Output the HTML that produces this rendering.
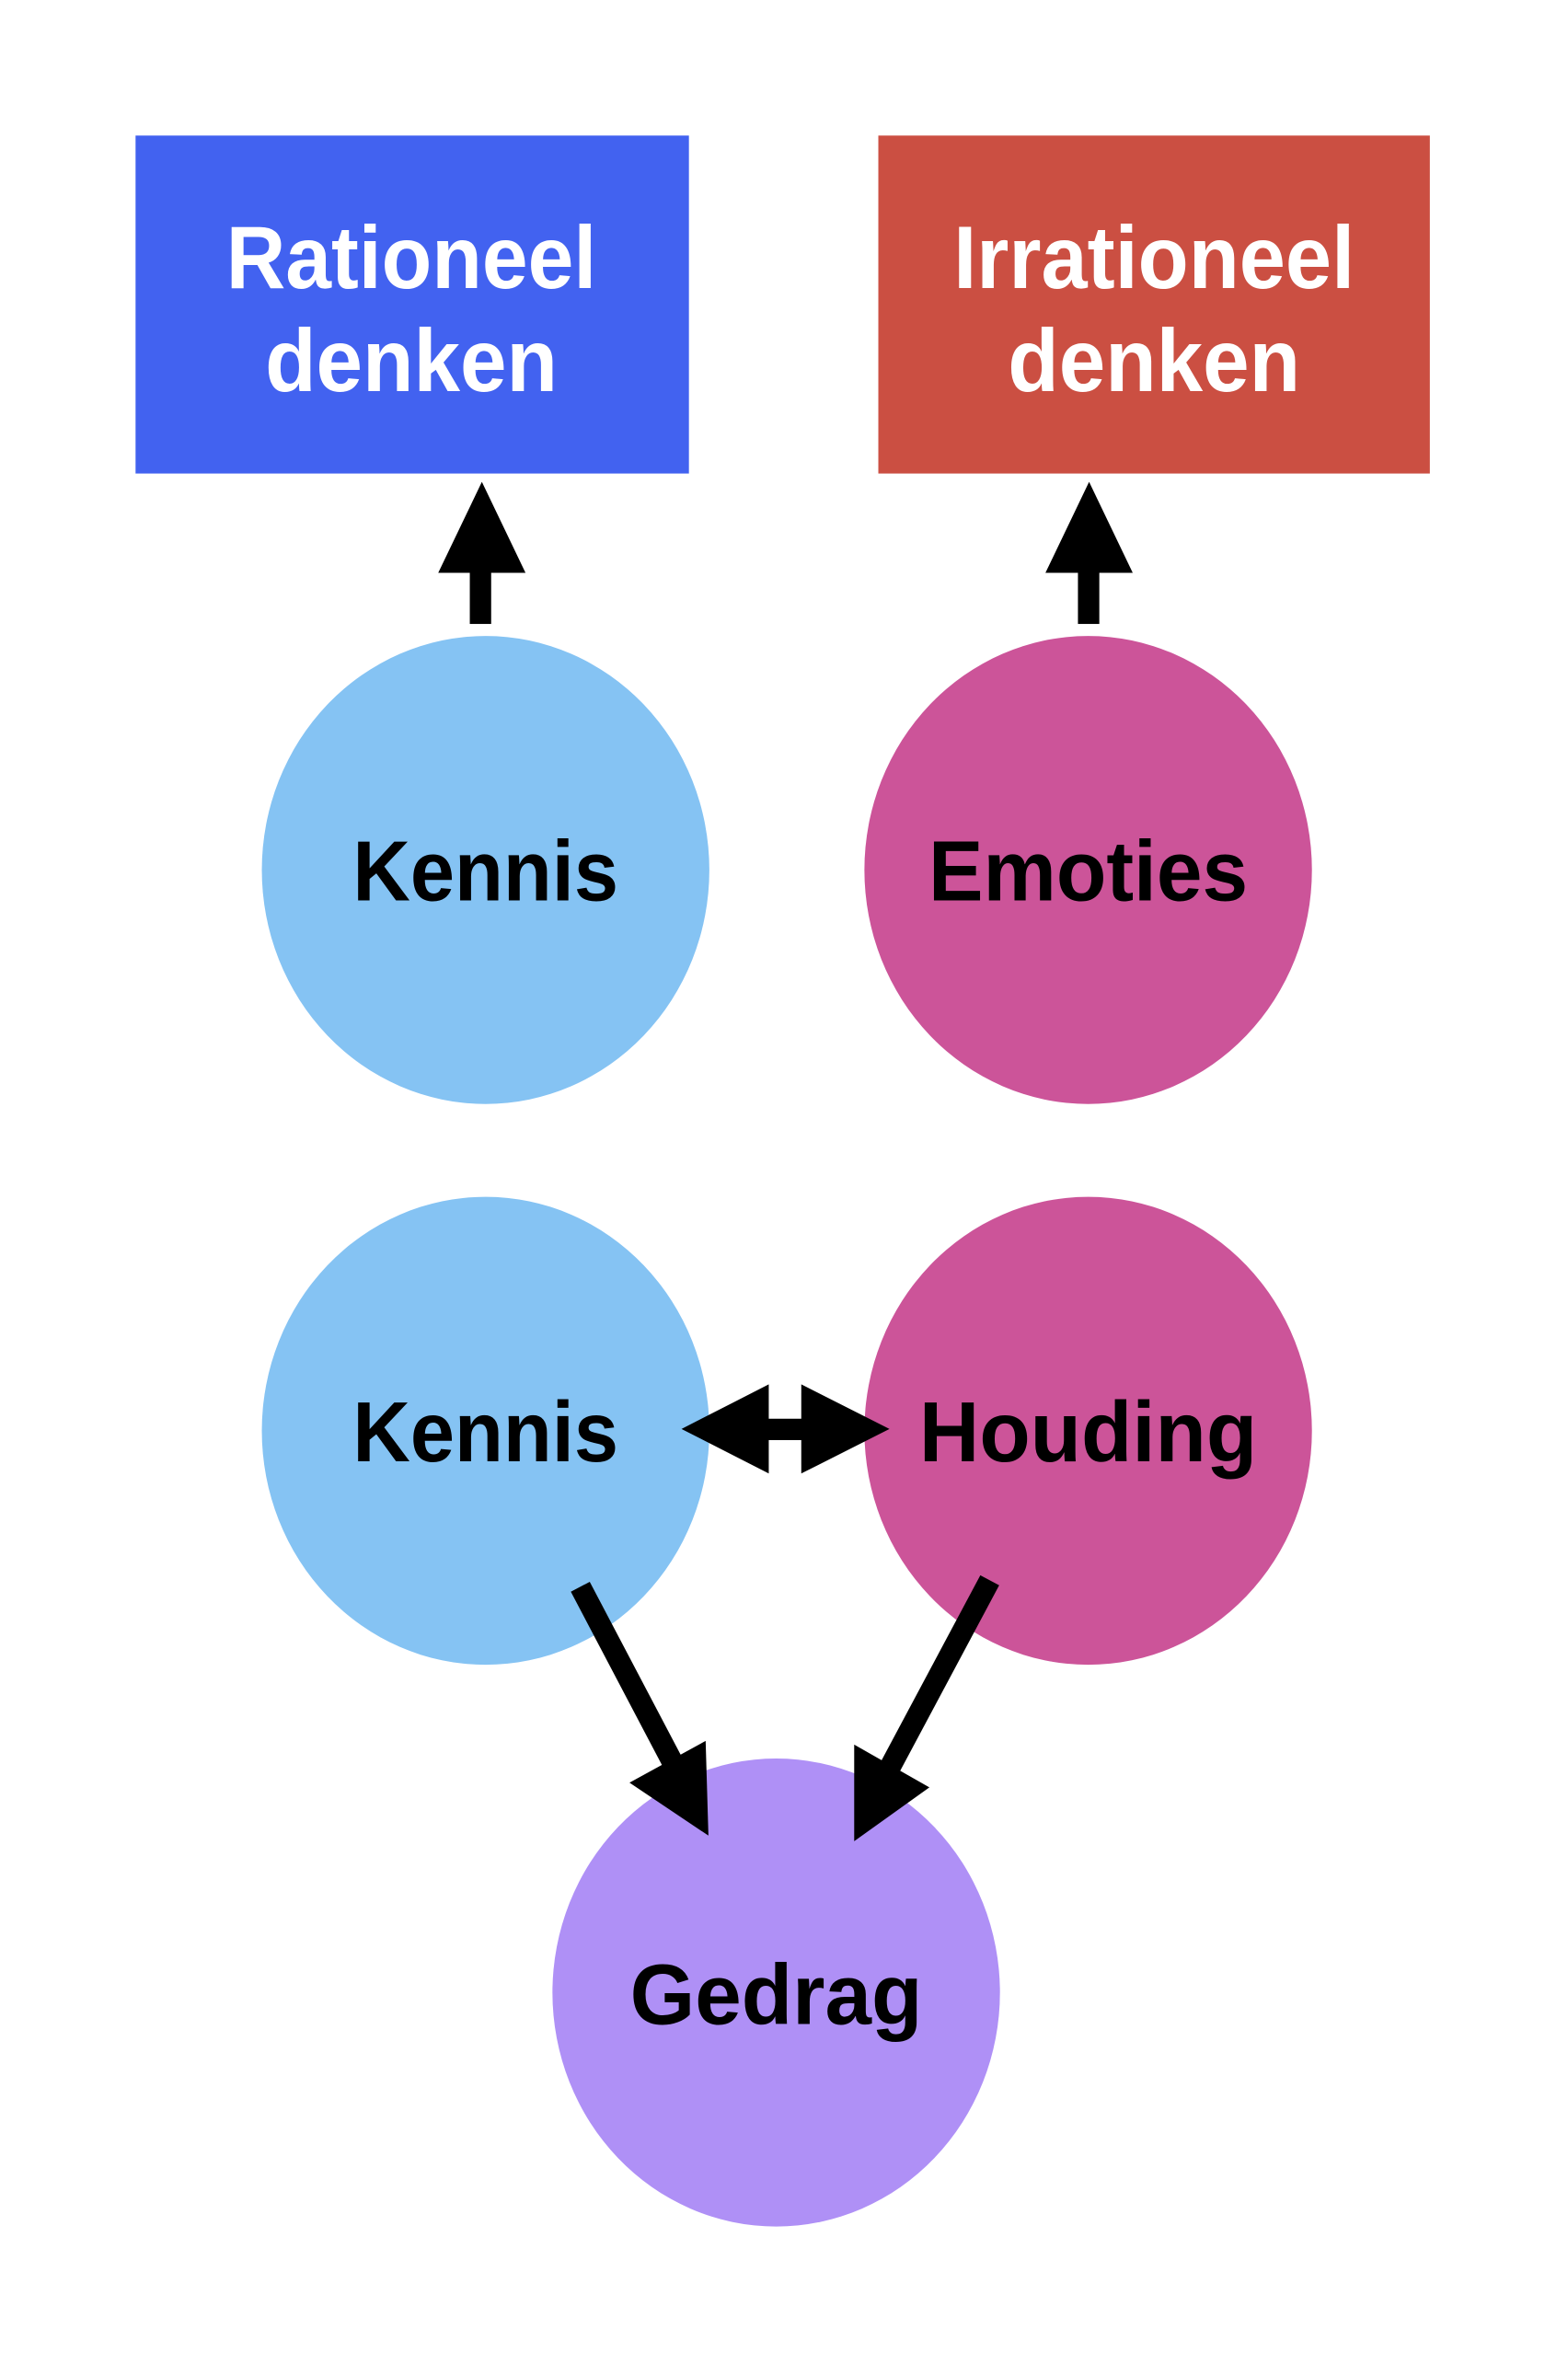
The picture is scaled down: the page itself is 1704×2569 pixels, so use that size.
<!DOCTYPE html>
<html><head><meta charset="utf-8"><style>html,body{margin:0;padding:0;background:#fff}svg{display:block}</style></head>
<body>
<svg width="1704" height="2569" viewBox="0 0 1704 2569" xmlns="http://www.w3.org/2000/svg" font-family="Liberation Sans, sans-serif" font-weight="bold" font-size="92">
<g transform="scale(1.009)">
<rect x="146" y="146" width="596" height="364" fill="#4262F0"/>
<rect x="946" y="146" width="594" height="364" fill="#CB4F42"/>
<ellipse cx="523" cy="937" rx="241" ry="252" fill="#85C3F3"/>
<ellipse cx="1172" cy="937" rx="241" ry="252" fill="#CC5499"/>
<ellipse cx="523" cy="1541" rx="241" ry="252" fill="#85C3F3"/>
<ellipse cx="1172" cy="1541" rx="241" ry="252" fill="#CC5499"/>
<ellipse cx="836" cy="2146" rx="241" ry="252" fill="#AF90F6"/>
<g fill="#fff" text-anchor="middle" font-size="96">
<text x="443" y="310" textLength="399" lengthAdjust="spacingAndGlyphs">Rationeel</text>
<text x="443" y="421" textLength="315" lengthAdjust="spacingAndGlyphs">denken</text>
<text x="1243" y="310" textLength="432" lengthAdjust="spacingAndGlyphs">Irrationeel</text>
<text x="1243" y="421" textLength="315" lengthAdjust="spacingAndGlyphs">denken</text>
</g>
<g fill="#000" text-anchor="middle">
<text x="523" y="970" textLength="286" lengthAdjust="spacingAndGlyphs">Kennis</text>
<text x="1172" y="970" textLength="344" lengthAdjust="spacingAndGlyphs">Emoties</text>
<text x="523" y="1574" textLength="286" lengthAdjust="spacingAndGlyphs">Kennis</text>
<text x="1172" y="1574" textLength="364" lengthAdjust="spacingAndGlyphs">Houding</text>
<text x="836" y="2180" textLength="315" lengthAdjust="spacingAndGlyphs">Gedrag</text>
</g>
<g fill="#000">
<rect x="506" y="612" width="23" height="60"/>
<polygon points="519,519 472,617 566,617"/>
<rect x="1161" y="612" width="23" height="60"/>
<polygon points="1173,519 1126,617 1220,617"/>
<rect x="820" y="1528" width="50" height="23"/>
<polygon points="734,1539 828,1491 828,1587"/>
<polygon points="958,1539 863,1491 863,1587"/>
<polygon points="763,1977 678,1920 760,1875"/>
<polygon points="920,1983 920,1879 1001,1925"/>
</g>
<g stroke="#000" stroke-width="23">
<line x1="625" y1="1709" x2="727" y2="1903"/>
<line x1="1066" y1="1702" x2="955" y2="1910"/>
</g>
</g>
</svg>
</body></html>
